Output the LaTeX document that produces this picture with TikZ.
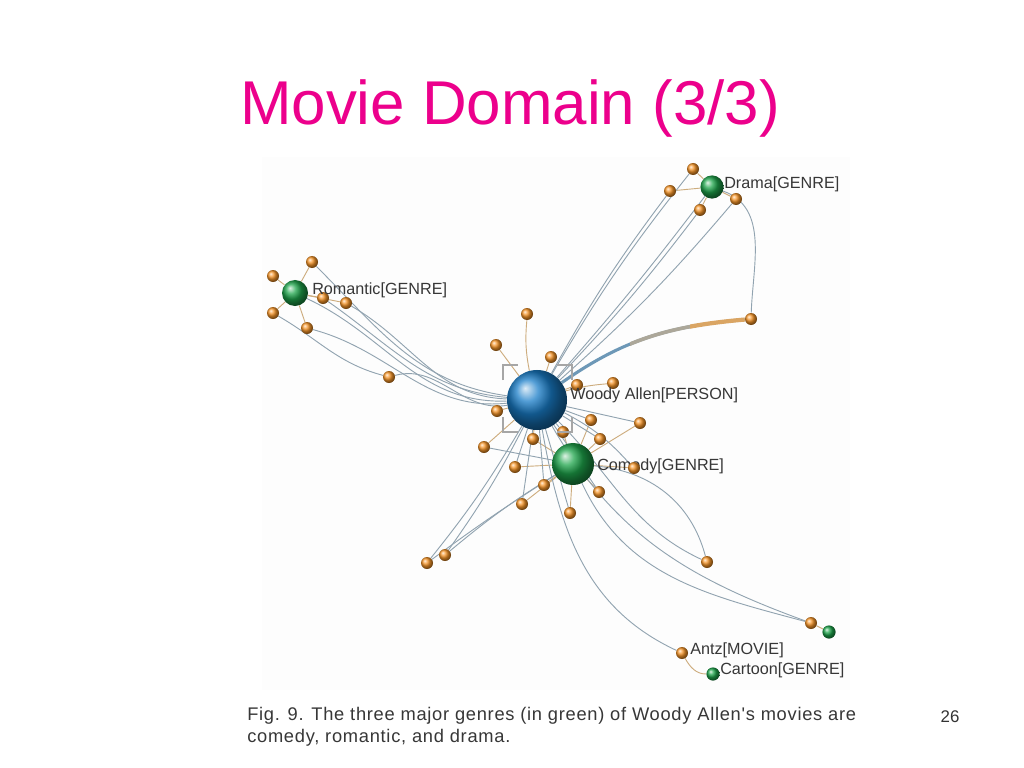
\documentclass[tikz,border=0pt]{standalone}
\usepackage{fontspec}
\setmainfont{Liberation Sans}
\newfontfamily\capfont[LetterSpace=4]{Liberation Sans}
\usetikzlibrary{positioning,backgrounds}

\definecolor{titlepink}{RGB}{236,0,140}
\definecolor{figbg}{RGB}{253,253,253}
\definecolor{edgecol}{RGB}{145,163,176}
\definecolor{tanline}{RGB}{205,172,125}
\definecolor{moviec}{RGB}{248,150,40}
\definecolor{genrec}{RGB}{30,165,75}
\definecolor{personc}{RGB}{25,125,200}
\definecolor{labelc}{RGB}{55,55,55}

\tikzset{
    movie/.style={circle, inner sep=0pt, minimum size=0.3cm, ball color=moviec},
    genre/.style={circle, inner sep=0pt, ball color=genrec},
    person/.style={circle, inner sep=0pt, minimum size=1.5cm, ball color=personc},
    edge/.style={edgecol, line width=0.65pt},
    link/.style={tanline, line width=0.65pt},
    lbl/.style={anchor=base west, inner sep=0pt, text=labelc, font=\fontsize{11.5}{13}\selectfont},
    capline/.style={anchor=base west, inner sep=0pt, text=labelc, font=\capfont\fontsize{13}{15.6}\selectfont},
    corner/.style={gray!70, line width=0.8pt},
}

\begin{document}
\begin{tikzpicture}[x=0.025cm, y=-0.025cm]
    \useasboundingbox (0,0) rectangle (1024,768);

    \node[font=\fontsize{44}{53}\selectfont, text=titlepink, anchor=base] (title) at (510,125) {Movie Domain (3/3)};

    % genres and person
    \node[person] (w) at (537,400) {};
    \node[genre, minimum size=1.05cm] (com) at (573,464) {};
    \node[genre, minimum size=0.65cm] (rom) at (295,293) {};
    \node[genre, minimum size=0.58cm] (dra) at (712,187) {};
    \node[genre, minimum size=0.33cm] (car) at (713,674) {};
    \node[genre, minimum size=0.33cm] (gen) at (829,632) {};

    % movies
    \node[movie] (r1) at (312,262) {};
    \node[movie] (r2) at (273,276) {};
    \node[movie] (r3) at (273,313) {};
    \node[movie] (r4) at (307,328) {};
    \node[movie] (r5) at (323,298) {};
    \node[movie] (r6) at (346,303) {};
    \node[movie] (r7) at (389,377) {};

    \node[movie] (d1) at (693,169) {};
    \node[movie] (d2) at (670,191) {};
    \node[movie] (d3) at (700,210) {};
    \node[movie] (d4) at (736,199) {};
    \node[movie] (d5) at (751,319) {};

    \node[movie] (c1) at (591,420) {};
    \node[movie] (c2) at (600,439) {};
    \node[movie] (c3) at (563,432) {};
    \node[movie] (c5) at (599,492) {};
    \node[movie] (c6) at (570,513) {};
    \node[movie] (c7) at (544,485) {};
    \node[movie] (c8) at (515,467) {};
    \node[movie] (c9) at (640,423) {};
    \node[movie] (c10) at (707,562) {};
    \node[movie] (c11) at (811,623) {};
    \node[movie] (c12) at (522,504) {};

    \node[movie] (o1) at (527,314) {};
    \node[movie] (o2) at (496,345) {};
    \node[movie] (o3) at (551,357) {};
    \node[movie] (o4) at (577,385) {};
    \node[movie] (o5) at (613,383) {};
    \node[movie] (o6) at (497,411) {};
    \node[movie] (o7) at (484,447) {};
    \node[movie] (o8) at (533,439) {};
    \node[movie] (o9) at (445,555) {};
    \node[movie] (o10) at (427,563) {};
    \node[movie] (antz) at (682,653) {};

    % labels
    \node[lbl] (lrom) at (312,294) {Romantic[GENRE]};
    \node[lbl] (ldra) at (724,189) {Drama[GENRE]};
    \node[lbl] (lw) at (570,399) {Woody Allen[PERSON]};
    \node[lbl] (lcom) at (597,470) {Comedy[GENRE]};
    \node[movie] (c4) at (634,468) {};
    \node[lbl] (lantz) at (690,654) {Antz[MOVIE]};
    \node[lbl] (lcar) at (720,674) {Cartoon[GENRE]};

    \node[capline] (cap1) at (247,720) {Fig. 9. The three major genres (in green) of Woody Allen's movies are};
    \node[capline] (cap2) at (247,742) {comedy, romantic, and drama.};
    \node[anchor=base, inner sep=0pt, text=black!80, font=\fontsize{12}{14}\selectfont] (pnum) at (950,722) {26};

    \begin{scope}[on background layer]
        \fill[white] (0,0) rectangle (1024,768);
        \fill[figbg] (262,157) rectangle (850,690);

        % romantic
        \draw[link] (rom) -- (r1);
        \draw[link] (rom) -- (r2);
        \draw[link] (rom) -- (r3);
        \draw[link] (rom) -- (r4);
        \draw[link] (rom) -- (r5);
        \draw[link] (rom) -- (r6);
        \draw[edge] (w) to[out=172,in=-45] (r1);
        \draw[edge] (w) to[out=175,in=-35] (r5);
        \draw[edge] (w) to[out=178,in=-30] (r6);
        \draw[edge] (w) to[out=182,in=-25] (rom);
        \draw[edge] (w) to[out=186,in=-15] (r4);
        \draw[edge] (w) to[out=190,in=15] (r7);
        \draw[edge] (r7) to[out=165,in=-30] (r3);

        % drama
        \draw[link] (dra) -- (d1);
        \draw[link] (dra) -- (d2);
        \draw[link] (dra) -- (d3);
        \draw[link] (dra) -- (d4);
        \draw[edge] (w) to[bend left=4] (d1);
        \draw[edge] (w) to[bend left=4] (d2);
        \draw[edge] (w) to[bend right=3] (d3);
        \draw[edge] (w) to[bend right=4] (d4);
        \draw[edge] (w) to[bend right=2] (dra);
        \draw[edge] (dra) to[out=-20,in=88] (d5);
        \draw[line width=2.2pt, edgecol!70!personc] (w) to[out=35,in=185] (d5);
        \begin{scope}
            \clip (630,250) rectangle (690,360);
            \draw[line width=2.6pt, edgecol!55!tanline] (w) to[out=35,in=185] (d5);
        \end{scope}
        \begin{scope}
            \clip (690,250) rectangle (770,360);
            \draw[line width=3pt, tanline!70!moviec] (w) to[out=35,in=185] (d5);
        \end{scope}

        % near the person
        \draw[link] (w) to[bend left=8] (o1);
        \draw[link] (w) -- (o2);
        \draw[link] (w) -- (o3);
        \draw[link] (w) -- (o4);
        \draw[link] (w) to[bend left=5] (o5);
        \draw[link] (w) -- (o6);
        \draw[link] (w) -- (o7);
        \draw[link] (w) -- (o8);
        \draw[link] (o8) -- (com);
        \draw[edge] (o7) -- (com);

        % comedy
        \draw[link] (com) -- (c1);
        \draw[link] (com) -- (c2);
        \draw[link] (com) -- (c3);
        \draw[link] (com) -- (c4);
        \draw[link] (com) -- (c5);
        \draw[link] (com) -- (c6);
        \draw[link] (com) -- (c7);
        \draw[link] (com) -- (c8);
        \draw[link] (com) -- (c12);
        \draw[link] (c9) -- (com);
        \draw[edge] (w) -- (c1);
        \draw[edge] (w) -- (c2);
        \draw[edge] (w) -- (c3);
        \draw[edge] (w) to[bend left=10] (c4);
        \draw[edge] (w) -- (c5);
        \draw[edge] (w) -- (c6);
        \draw[edge] (w) -- (c7);
        \draw[edge] (w) -- (c8);
        \draw[edge] (w) -- (c9);
        \draw[edge] (w) -- (c12);
        \draw[edge] (com) to[out=-5,in=105] (c10);
        \draw[edge] (w) to[out=-45,in=155] (c10);
        \draw[edge] (com) to[out=-65,in=165] (c11);
        \draw[edge] (w) to[out=-60,in=160] (c11);
        \draw[link] (c11) -- (gen);
        \draw[edge] (w) to[out=-80,in=155] (antz);
        \draw[link] (antz) to[out=-60,in=180] (car);
        \draw[edge] (w) to[bend left=4] (o9);
        \draw[edge] (w) to[bend left=4] (o10);
        \draw[edge] (com) to[bend right=4] (o9);
        \draw[edge] (com) to[bend right=2] (o10);
    \end{scope}

    % selection corners
    \draw[corner] (503,380) -- (503,365) -- (518,365);
    \draw[corner] (557,365) -- (572,365) -- (572,380);
    \draw[corner] (503,417) -- (503,432) -- (518,432);
    \draw[corner] (557,432) -- (572,432) -- (572,417);
\end{tikzpicture}
\end{document}
